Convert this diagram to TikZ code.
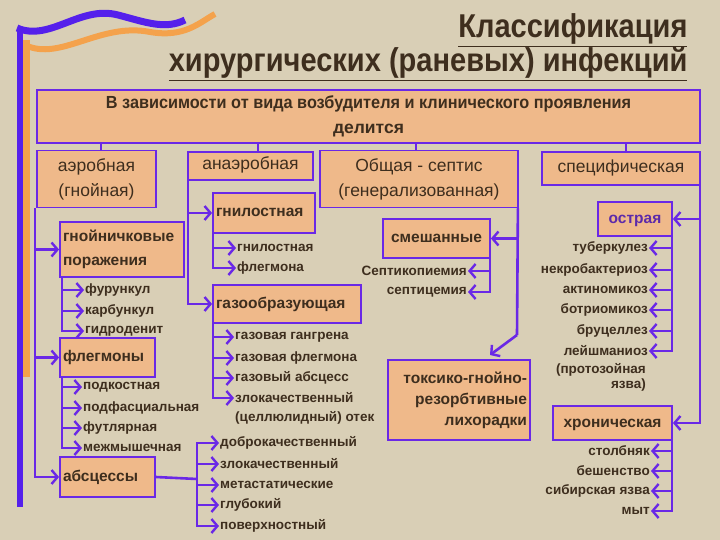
\documentclass[tikz,border=0pt]{standalone}
\usepackage{fontspec}
\setmainfont{Liberation Sans}
\usetikzlibrary{arrows.meta}
\definecolor{bg}{HTML}{D9CFB6}
\definecolor{boxf}{HTML}{EFB98A}
\definecolor{vio}{HTML}{6A28E6}
\definecolor{org}{HTML}{F4A24C}
\definecolor{ttl}{HTML}{3E2E1E}
\tikzset{
 bx/.style={draw=vio,line width=1.8pt,fill=boxf,inner sep=0pt,font=\fontsize{15.5}{17}\selectfont\bfseries,text=ttl},
 sb/.style={bx,text height=11pt,text depth=3pt},
 ln/.style={draw=vio,line width=2.6pt},
 arr/.style={ln,-{Straight Barb[length=6pt,width=14pt,line width=2.4pt]}},
 it/.style={font=\fontsize{13.5}{15}\selectfont\bfseries,text=ttl,inner sep=1pt},
}
\begin{document}
\begin{tikzpicture}[x=1pt,y=-1pt]
\fill[bg] (0,0) rectangle (720,540);
\useasboundingbox (0,0) rectangle (720,540);
% decoration
\fill[org] (23,40) rectangle (30,377);
\fill[vio!80!blue] (17,28) rectangle (23,507);
\draw[org,line width=6pt] (25,45) .. controls (60,62) and (100,22) .. (150,32) .. controls (185,38) and (200,22) .. (215,14);
\draw[vio!80!blue,line width=7pt] (17,28) .. controls (50,42) and (80,5) .. (118,15) .. controls (145,22) and (165,30) .. (185,20);
% title
\node[anchor=east,text=ttl,font=\fontsize{33}{36}\selectfont\bfseries] (t1) at (691,30) {\scalebox{0.88}[1]{\underline{Классификация}}};
\node[anchor=east,text=ttl,font=\fontsize{33}{36}\selectfont\bfseries] (t2) at (691,64) {\scalebox{0.88}[1]{\underline{хирургических (раневых) инфекций}}};
% main
\node[bx,minimum width=663,minimum height=53,align=center,font=\fontsize{17.5}{25}\selectfont\bfseries] (main) at (368.5,116.5) {\scalebox{0.93}[1]{В зависимости от вида возбудителя и клинического проявления}\\делится};
\node[bx,font=\fontsize{17.5}{25}\selectfont,minimum width=119,minimum height=57,align=center] (aer) at (96.5,179) {аэробная\\(гнойная)};
\node[sb,font=\fontsize{17.5}{25}\selectfont,minimum width=125,minimum height=28] (ana) at (250.5,166) {анаэробная};
\node[bx,font=\fontsize{17.5}{25}\selectfont,minimum width=198,minimum height=57,align=center] (gen) at (419,179) {Общая - септис\\(генерализованная)};
\node[sb,font=\fontsize{17.5}{25}\selectfont,minimum width=158,minimum height=33] (spec) at (621,168.5) {специфическая};
\foreach \x/\n in {101/aer,258/ana,416/gen,626/spec}
  \draw[vio,line width=2pt] (\x,143) -- (\x,0 |- \n.north);
% aerobic
\node[bx,minimum width=124,minimum height=55,align=left,text width=118,inner xsep=3pt,font=\fontsize{15.5}{24}\selectfont\bfseries] (gno) at (122,249.5) {гнойничковые\\поражения};
\node[sb,minimum width=95,minimum height=39,align=left,text width=89,inner xsep=3pt] (fle) at (107.5,357.5) {флегмоны};
\node[sb,minimum width=95,minimum height=40,align=left,text width=89,inner xsep=3pt] (abs) at (107.5,477) {абсцессы};
\draw[arr] ([xshift=-1]aer.south west) |- (gno.west);
\draw[arr] ([xshift=-1]aer.south west) |- (fle.west);
\draw[arr] ([xshift=-1]aer.south west) |- (abs.west);
\foreach \y/\t [count=\i] in {290/фурункул,311/карбункул,331/гидроденит}
 { \node[it,anchor=west] (g\i) at (84,\y) {\t}; \draw[arr] ([xshift=3]gno.south west) |- (g\i.west); }
\foreach \y/\t [count=\i] in {387/подкостная,408/подфасциальная,428/футлярная,448/межмышечная}
 { \node[it,anchor=west] (f\i) at (82,\y) {\t}; \draw[arr] ([xshift=3]fle.south west) |- (f\i.west); }
\coordinate (ab) at (197,479);
\draw[ln] (abs.east) -- (ab);
\foreach \y/\t [count=\i] in {443/доброкачественный,464/злокачественный,485/метастатические,505/глубокий,526/поверхностный}
 { \node[it,anchor=west] (a\i) at (219,\y) {\t}; \draw[arr] (ab) |- (a\i.west); }
% anaerobic
\node[sb,minimum width=102,minimum height=40,align=left,text width=96,inner xsep=3pt] (gni) at (264,213) {гнилостная};
\node[sb,minimum width=148,minimum height=38,align=left,text width=142,inner xsep=3pt] (gaz) at (287,304) {газообразующая};
\draw[arr] ([xshift=1]ana.south west) |- (gni.west);
\draw[arr] ([xshift=1]ana.south west) |- (gaz.west);
\foreach \y/\t [count=\i] in {248/гнилостная,268/флегмона}
 { \node[it,anchor=west] (n\i) at (236,\y) {\t}; \draw[arr] ([xshift=1]gni.south west) |- (n\i.west); }
\foreach \y/\t [count=\i] in {337/газовая гангрена,358/газовая флегмона,378/газовый абсцесс,398/злокачественный}
 { \node[it,anchor=west] (z\i) at (234,\y) {\t}; \draw[arr] ([xshift=1]gaz.south west) |- (z\i.west); }
\node[it,anchor=west] (z5) at (234,418) {(целлюлидный) отек};
% general
\node[sb,minimum width=107,minimum height=39] (mix) at (436.5,238.5) {смешанные};
\node[bx,minimum width=142,minimum height=80,align=right,text width=136,inner xsep=3pt,font=\fontsize{15.5}{21}\selectfont\bfseries] (tox) at (459,400) {токсико-гнойно-\\резорбтивные\\лихорадки};
\coordinate (gc) at ([xshift=-1]gen.south east);
\coordinate (gb) at (517,335);
\draw[arr] (gc) |- (mix.east);
\draw[ln] (gc) -- (gb);
\draw[arr] (gb) -- (490,355);
\foreach \y/\t [count=\i] in {271/Септикопиемия,292/септицемия}
 { \node[it,anchor=east] (s\i) at (468,\y) {\t}; \draw[arr] ([xshift=-1]mix.south east) |- (s\i.east); }
% specific
\node[sb,minimum width=74,minimum height=34,text=vio!70!ttl] (acu) at (635,219) {острая};
\node[sb,minimum width=119,minimum height=34] (chr) at (612.5,423) {хроническая};
\coordinate (sc) at ([xshift=-1]spec.south east);
\draw[arr] (sc) |- (acu.east);
\draw[arr] (sc) |- (chr.east);
\foreach \y/\t [count=\i] in {248/туберкулез,270/некробактериоз,290/актиномикоз,310/ботриомикоз,331/бруцеллез,351/лейшманиоз}
 { \node[it,anchor=east] (o\i) at (649,\y) {\t}; \draw[arr] ([xshift=-1]acu.south east) |- (o\i.east); }
\node[it,anchor=east,align=right] (o7) at (647,377) {(протозойная\\язва)};
\foreach \y/\t [count=\i] in {451/столбняк,471/бешенство,491/сибирская язва,511/мыт}
 { \node[it,anchor=east] (c\i) at (651,\y) {\t}; \draw[arr] ([xshift=-1]chr.south east) |- (c\i.east); }
\end{tikzpicture}
\end{document}
